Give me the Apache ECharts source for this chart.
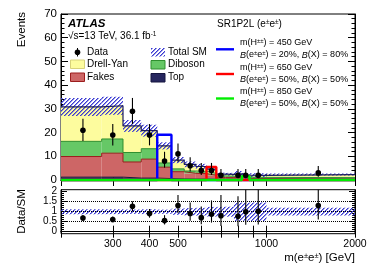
<!DOCTYPE html>
<html><head><meta charset="utf-8">
<script src="https://cdn.jsdelivr.net/npm/echarts@6/dist/echarts.min.js"></script>
<style>html,body{margin:0;padding:0;background:#fff}#c{width:374px;height:268px}</style>
</head><body><div id="c"></div>
<script>
// ---------- data ----------
const binEdges  = [200,275,325,375,425,475,525,575,625,675,725,775,825,875,1000,2000];
const topBkg    = [1.2,1.2,0.8,0.8,0.6,0.4,0.3,0.3,0.2,0.1,0.1,0.1,0.1,0.1,0.1];
const fakes     = [8.7,10.1,6.8,8.0,4.8,3.1,2.5,2.4,1.8,1.0,1.0,1.0,0.6,0.5,0.2];
const diboson   = [6.4,6.0,4.0,4.4,1.8,1.2,1.0,0.9,0.8,0.6,0.5,0.5,0.5,0.5,0.7];
const drellYan  = [14.5,14.0,11.2,7.6,7.2,3.7,2.8,2.1,1.8,0.8,0.8,1.0,0.8,0.85,1.3];
const sysErr    = [3.8,3.8,2.5,2.5,1.5,1.3,1.2,1.1,1.1,0.6,0.6,1.2,0.9,0.9,0.45];
const dataObs   = [21,19,29,19,8,11,6,4,4,2,null,2,2,2,3];
const dataErrUp = [4.8,4.6,5.6,4.6,3.9,4.4,3.6,3.2,3.2,2.6,null,2.6,2.6,2.6,2.9];
const dataErrDn = [4.6,4.4,5.4,4.4,2.8,3.3,2.4,1.9,1.9,1.3,null,1.3,1.3,1.3,1.6];
const sig450    = [0,0,0,0,19.1,0,0,0,0,0,0,0,0,0,0];
const sig650    = [0,0,0,0,0,0,0,0,5.5,0,0,0,0,0,0];
const sig850    = [0,0,0,0,0,0,0,0,0,0,0,0,1.6,0,0];
const xTickVals  = [200,300,400,500,600,700,800,900,1000,2000];
const xLabelVals = [300,400,500,1000,2000];
const ratioTicks = [0,0.5,1,1.5,2];
const ratioMinor = [0.1,0.2,0.3,0.4,0.6,0.7,0.8,0.9,1.1,1.2,1.3,1.4,1.6,1.7,1.8,1.9];

// ---------- helpers ----------
const FONT = 'Liberation Sans, Arial, Helvetica, sans-serif';
const lx = v => Math.log10(v);
const nBins = binEdges.length - 1;
const stepData = vals => binEdges.map((e,i)=>[lx(e), vals[Math.min(i,nBins-1)]]);
const centers = topBkg.map((_,i)=>(binEdges[i]+binEdges[i+1])/2);
// cumulative stack levels (bottom -> top): Top, Fakes, Diboson, Drell-Yan
const components = [topBkg, fakes, diboson, drellYan];
const levels = [];
components.forEach((c,k)=>{ levels.push(c.map((v,i)=>v + (k ? levels[k-1][i] : 0))); });
const total = levels[3];

function makeHatch(){
  const c = document.createElement('canvas'); c.width = 4; c.height = 4;
  const g = c.getContext('2d'); g.fillStyle = '#3a3ad2';
  for (let i=0;i<4;i++){ g.fillRect(i,3-i,1,1); }
  g.fillStyle = 'rgba(58,58,210,0.55)';
  for (let i=0;i<4;i++){ g.fillRect((i+1)%4,3-i,1,1); }
  return c;
}
const hatch = makeHatch();
const hatchFill = {image: hatch, repeat: 'repeat'};

const rectRows = (lo, hi) => lo.map((_,i)=>[lx(binEdges[i]), lx(binEdges[i+1]), lo[i], hi[i]]);
const zeros = topBkg.map(()=>0);
const bandMain = rectRows(total.map((t,i)=>t-sysErr[i]), total.map((t,i)=>t+sysErr[i]));
const bandRatio = rectRows(total.map((t,i)=>1-sysErr[i]/t), total.map((t,i)=>1+sysErr[i]/t));
const ptsMain = [], ptsRatio = [];
dataObs.forEach((d,i)=>{
  if (d===null) return;
  ptsMain.push([lx(centers[i]), d, dataErrUp[i], dataErrDn[i]]);
  ptsRatio.push([lx(centers[i]), d/total[i], dataErrUp[i]/total[i], dataErrDn[i]/total[i]]);
});

function rectItemFactory(fill){
  return function(params, api){
    const p0 = api.coord([api.value(0), api.value(3)]);
    const p1 = api.coord([api.value(1), api.value(2)]);
    const cs = params.coordSys;
    const top = Math.max(p0[1], cs.y), bot = Math.min(p1[1], cs.y+cs.height);
    return {type:'rect', shape:{x:p0[0], y:top, width:p1[0]-p0[0], height:Math.max(0,bot-top)},
            style:{fill:fill, stroke:null}};
  };
}
function ptItem(params, api){
  const x = api.value(0), y = api.value(1), up = api.value(2), dn = api.value(3);
  const c = api.coord([x,y]), a = api.coord([x,y+up]), b = api.coord([x,y-dn]);
  const cs = params.coordSys;
  const ya = Math.max(a[1], cs.y), yb = Math.min(b[1], cs.y+cs.height);
  return {type:'group', children:[
    {type:'line', shape:{x1:c[0],y1:ya,x2:c[0],y2:yb}, style:{stroke:'#000', lineWidth:1.1}},
    {type:'circle', shape:{cx:c[0],cy:c[1],r:2.8}, style:{fill:'#000'}}
  ]};
}

function fillSeries(name, k, fill){
  return {name, type:'custom', xAxisIndex:0, yAxisIndex:0, animation:false,
    data: rectRows(k ? levels[k-1] : zeros, levels[k]), renderItem: rectItemFactory(fill), encode:{x:[0,1], y:[2,3]}};
}
function outlineSeries(name, vals, color, width, clip){
  return {name, type:'line', step:'end', xAxisIndex:0, yAxisIndex:0, clip: clip!==false,
    data: stepData(vals), symbol:'none', showSymbol:false, animation:false,
    lineStyle:{color, width}};
}

const xCommon = (grid, pos, labels) => ({
  type:'value', gridIndex:grid, position:pos, min:lx(200), max:lx(2000),
  axisLine:{show:true, lineStyle:{color:'#000', width:1}},
  axisTick:{show:true, inside:true, length:6, customValues:xTickVals.map(lx), lineStyle:{color:'#000'}},
  axisLabel: labels ? {show:true, customValues:xLabelVals.map(lx), formatter:v=>String(Math.round(Math.pow(10,v))),
      fontFamily:FONT, fontSize:10.5, color:'#000', margin:5} : {show:false},
  splitLine:{show:false}
});
const yMain = (pos, labels) => ({
  type:'value', gridIndex:0, position:pos, min:0, max:70, interval:10,
  axisLine:{show:true, lineStyle:{color:'#000', width:1}},
  axisTick:{show:true, inside:true, length:7, lineStyle:{color:'#000'}},
  minorTick:{show:true, splitNumber:5, length:3.5, lineStyle:{color:'#000'}},
  axisLabel: labels ? {show:true, fontFamily:FONT, fontSize:11.5, color:'#000', margin:4} : {show:false},
  splitLine:{show:false}
});
const yRatio = (pos, labels) => ({
  type:'value', gridIndex:1, position:pos, min:-0.1, max:2.1,
  axisLine:{show:true, lineStyle:{color:'#000', width:1}},
  axisTick:{show:true, inside:true, length:6, customValues:ratioTicks, lineStyle:{color:'#000'}},
  axisLabel: labels ? {show:true, customValues:ratioTicks, fontFamily:FONT, fontSize:10, color:'#000', margin:4} : {show:false},
  splitLine:{show:false}
});
const yRatioMinor = (pos) => ({
  type:'value', gridIndex:1, position:pos, min:-0.1, max:2.1,
  axisLine:{show:false},
  axisTick:{show:true, inside:true, length:3, customValues:ratioMinor, lineStyle:{color:'#000'}},
  axisLabel:{show:false}, splitLine:{show:false}
});

const chart = echarts.init(document.getElementById('c'), null, {renderer:'canvas'});
const T = (x,y,text,extra) => ({type:'text', x, y, z:100, style:Object.assign({text, fontFamily:FONT, fontSize:10, fill:'#000',
  textVerticalAlign:'middle', verticalAlign:'middle'}, extra||{})});
const supRich = {s:{fontSize:6, fontFamily:FONT, verticalAlign:'top'},
                 i:{fontStyle:'italic', fontFamily:FONT, fontSize:9}};
const sigText = (y, text) => ({type:'text', x:240, y, z:100, style:{text, rich:supRich, fontFamily:FONT, fontSize:9,
  fill:'#000', textVerticalAlign:'middle', verticalAlign:'middle'}});

chart.setOption({
  animation:false,
  backgroundColor:'#fff',
  grid:[
    {left:61, right:19, top:14, height:166, show:true, borderColor:'#000', borderWidth:1, backgroundColor:'transparent'},
    {left:61, right:19, top:189.7, height:44, show:true, borderColor:'#000', borderWidth:1, backgroundColor:'transparent'}
  ],
  xAxis:[ xCommon(0,'bottom',false), xCommon(0,'top',false), xCommon(1,'bottom',true), xCommon(1,'top',false) ],
  yAxis:[ yMain('left',true), yMain('right',false), yRatio('left',true), yRatio('right',false), yRatioMinor('left'), yRatioMinor('right') ],
  series:[
    fillSeries('Top', 0, '#26265e'),
    fillSeries('Fakes', 1, '#cd6666'),
    fillSeries('Diboson', 2, '#66c866'),
    fillSeries('Drell-Yan', 3, '#fdfc9e'),
    outlineSeries('Top line', levels[0], '#15153f', 1),
    outlineSeries('Fakes line', levels[1], '#9c1d1d', 1),
    outlineSeries('Diboson line', levels[2], '#2f8f2f', 1),
    {name:'Total SM band', type:'custom', xAxisIndex:0, yAxisIndex:0, data:bandMain, renderItem:rectItemFactory(hatchFill),
      encode:{x:[0,1], y:[2,3]}, animation:false},
    outlineSeries('Total SM', total, '#1c1c5c', 1.2),
    outlineSeries('450', sig450, '#0000ff', 2.4, false),
    outlineSeries('650', sig650, '#ff0000', 2.4, false),
    outlineSeries('850', sig850, '#00ee00', 2.4, false),
    {name:'Data', type:'custom', xAxisIndex:0, yAxisIndex:0, data:ptsMain, renderItem:ptItem,
      encode:{x:0, y:1}, animation:false, z:5},
    {name:'Ratio band', type:'custom', xAxisIndex:2, yAxisIndex:2, data:bandRatio, renderItem:rectItemFactory(hatchFill),
      encode:{x:[0,1], y:[2,3]}, animation:false,
      markLine:{silent:true, symbol:['none','none'], label:{show:false}, animation:false,
        lineStyle:{color:'#000', type:'dotted', width:1},
        data:[{yAxis:0.5},{yAxis:1},{yAxis:1.5}]}},
    {name:'Ratio', type:'custom', xAxisIndex:2, yAxisIndex:2, data:ptsRatio, renderItem:ptItem,
      encode:{x:0, y:1}, animation:false, z:5}
  ],
  graphic:[
    Object.assign(T(22, 12, 'Events', {fontSize:11.5, textAlign:'right'}), {rotation:Math.PI/2}),
    Object.assign(T(22, 211.5, 'Data/SM', {fontSize:11.5, textAlign:'center'}), {rotation:Math.PI/2}),
    {type:'text', x:355, y:258, z:100, style:{text:'m(e{s|±}e{s|±}) [GeV]', rich:{s:{fontSize:7.5, fontFamily:FONT, verticalAlign:'top'}},
      fontFamily:FONT, fontSize:11.5, fill:'#000', textAlign:'right', textVerticalAlign:'middle', verticalAlign:'middle'}},
    T(68, 23.5, 'ATLAS', {fontSize:11.5, fontWeight:'bold', fontStyle:'italic'}),
    {type:'text', x:68, y:36, z:100, style:{text:'√s=13 TeV, 36.1 fb{s|-1}', rich:{s:{fontSize:6.5, fontFamily:FONT, verticalAlign:'top'}},
      fontFamily:FONT, fontSize:10, fill:'#000', textVerticalAlign:'middle', verticalAlign:'middle'}},
    {type:'line', z:100, shape:{x1:77.5,y1:48,x2:77.5,y2:56.5}, style:{stroke:'#000', lineWidth:1}},
    {type:'circle', z:100, shape:{cx:77.5, cy:52.3, r:2.8}, style:{fill:'#000'}},
    T(87, 52.5, 'Data'),
    {type:'rect', z:100, shape:{x:70.5,y:60,width:14,height:8.5}, style:{fill:'#fdfc9e', stroke:'#d8d27a', lineWidth:1}},
    T(87, 64.5, 'Drell-Yan'),
    {type:'rect', z:100, shape:{x:70.5,y:73,width:14,height:8.5}, style:{fill:'#cd6666', stroke:'#9c1d1d', lineWidth:1}},
    T(87, 77.5, 'Fakes'),
    {type:'rect', z:100, shape:{x:151,y:48,width:14,height:8.5}, style:{fill:hatchFill, stroke:null}},
    T(168, 52.5, 'Total SM'),
    {type:'rect', z:100, shape:{x:151,y:60.5,width:14,height:8.5}, style:{fill:'#66c866', stroke:'#2f8f2f', lineWidth:1}},
    T(168, 64.5, 'Diboson'),
    {type:'rect', z:100, shape:{x:151,y:73.5,width:14,height:8.5}, style:{fill:'#26265e', stroke:'#15153f', lineWidth:1}},
    T(168, 77.5, 'Top'),
    {type:'text', x:217, y:24, z:100, style:{text:'SR1P2L (e{s|±}e{s|±})', rich:{s:{fontSize:6.5, fontFamily:FONT, verticalAlign:'top'}},
      fontFamily:FONT, fontSize:10, fill:'#000', textVerticalAlign:'middle', verticalAlign:'middle'}},
    {type:'line', z:100, shape:{x1:216,y1:49.3,x2:234,y2:49.3}, style:{stroke:'#0000ff', lineWidth:2.4}},
    {type:'line', z:100, shape:{x1:216,y1:74,x2:234,y2:74}, style:{stroke:'#ff0000', lineWidth:2.4}},
    {type:'line', z:100, shape:{x1:216,y1:98.5,x2:234,y2:98.5}, style:{stroke:'#00ee00', lineWidth:2.4}},
    sigText(43, 'm(H{s|±±}) = 450 GeV'),
    sigText(55, '{i|B}(e{s|±}e{s|±}) = 20%, {i|B}(X) = 80%'),
    sigText(67.5, 'm(H{s|±±}) = 650 GeV'),
    sigText(79.5, '{i|B}(e{s|±}e{s|±}) = 50%, {i|B}(X) = 50%'),
    sigText(91.5, 'm(H{s|±±}) = 850 GeV'),
    sigText(103.5, '{i|B}(e{s|±}e{s|±}) = 50%, {i|B}(X) = 50%')
  ]
});
</script>
</body></html>
